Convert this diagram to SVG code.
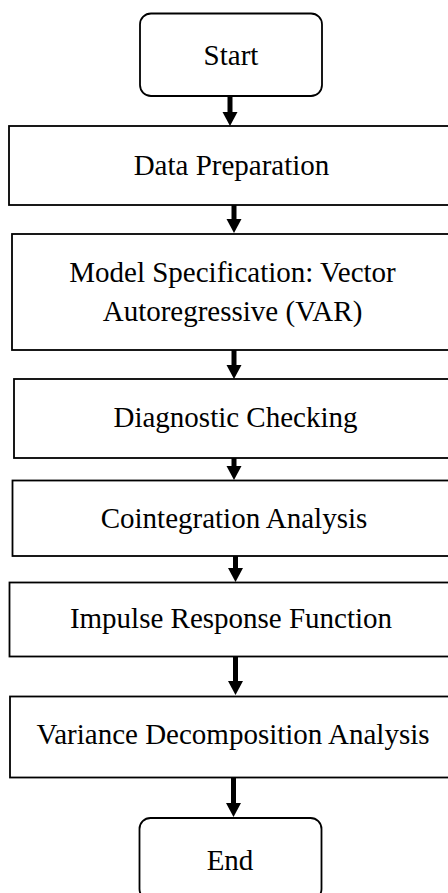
<svg xmlns="http://www.w3.org/2000/svg" width="448" height="893" viewBox="0 0 448 893">
<style>
.box{fill:#fff;stroke:#000;stroke-width:1.8}
.lbl{font-family:"Liberation Serif","Times New Roman",serif;font-size:29px;fill:#000;text-anchor:middle}
.conn{stroke:#000;stroke-width:5;fill:none}
</style>
<defs>
<marker id="ah" markerUnits="userSpaceOnUse" markerWidth="16" markerHeight="16" refX="0" refY="0" viewBox="0 -8 15 16" orient="auto">
<path d="M0,-7.5 L14,0 L0,7.5 z" fill="#000"/>
</marker>
</defs>
<rect width="448" height="893" fill="#fff"/>
<g id="start"><rect class="box" x="140" y="13.5" width="182" height="82.5" rx="11"/><text class="lbl" x="231" y="65">Start</text></g>
<g id="data-prep"><rect class="box" x="9" y="126" width="450" height="79"/><text class="lbl" x="231.5" y="175">Data Preparation</text></g>
<g id="model-spec"><rect class="box" x="12" y="234" width="450" height="116"/><text class="lbl" x="232.5" y="282">Model Specification: Vector</text><text class="lbl" x="232.5" y="321">Autoregressive (VAR)</text></g>
<g id="diagnostic"><rect class="box" x="14" y="379" width="450" height="79"/><text class="lbl" x="235.5" y="427">Diagnostic Checking</text></g>
<g id="cointegration"><rect class="box" x="12.5" y="480.5" width="450" height="75.5"/><text class="lbl" x="234" y="528">Cointegration Analysis</text></g>
<g id="impulse"><rect class="box" x="9.5" y="582.5" width="450" height="74"/><text class="lbl" x="231" y="628">Impulse Response Function</text></g>
<g id="variance"><rect class="box" x="10" y="696.5" width="450" height="81"/><text class="lbl" x="233" y="744">Variance Decomposition Analysis</text></g>
<g id="end"><rect class="box" x="139.5" y="818" width="182" height="82" rx="11"/><text class="lbl" x="230" y="870">End</text></g>
<g id="connectors">
<line class="conn" x1="230" y1="96" x2="230" y2="112" marker-end="url(#ah)"/>
<line class="conn" x1="234" y1="205" x2="234" y2="219" marker-end="url(#ah)"/>
<line class="conn" x1="234" y1="350" x2="234" y2="365" marker-end="url(#ah)"/>
<line class="conn" x1="234" y1="458" x2="234" y2="466" marker-end="url(#ah)"/>
<line class="conn" x1="235.5" y1="556" x2="235.5" y2="568" marker-end="url(#ah)"/>
<line class="conn" x1="235.5" y1="656.5" x2="235.5" y2="681" marker-end="url(#ah)"/>
<line class="conn" x1="233.5" y1="777.5" x2="233.5" y2="803" marker-end="url(#ah)"/>
</g>
</svg>
